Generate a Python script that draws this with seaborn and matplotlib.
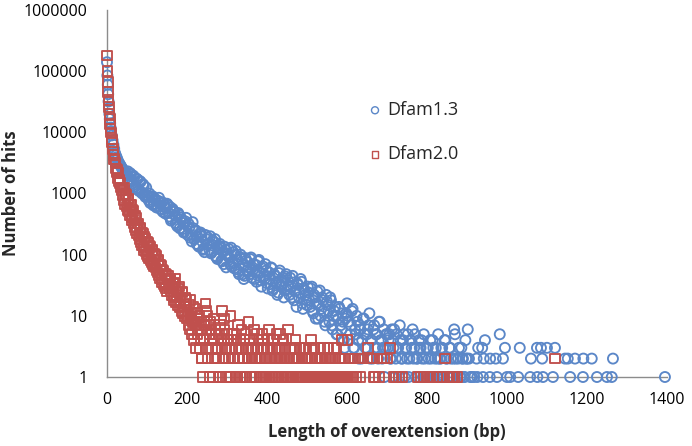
import pandas as pd
import matplotlib
matplotlib.use('Agg')
import matplotlib.pyplot as plt
import seaborn as sns
from matplotlib.ticker import NullLocator

# Dfam1.3 hit counts by overextension length (bp)
dfam13_x_head = [0, 1, 2, 3, 4, 5, 6, 7, 8, 9, 10]
dfam13_y_head = [140000, 85000, 60000, 42000, 32000, 25000, 20000, 16500, 14000, 12000, 10500]

dfam13_x_body = [12, 16, 20, 24, 28, 32, 36, 40, 44, 48,
                 52, 56, 60, 64, 68, 72, 76, 80, 84, 88, 92, 96,
                 100, 104, 108, 112, 116, 120, 124, 128, 132, 136, 140, 144, 148,
                 152, 156, 160, 164, 168, 172, 176, 180, 184, 188, 192, 196, 200,
                 204, 208, 212, 216, 220, 224, 228, 232, 236, 240, 244, 248,
                 252, 256, 260, 264, 268, 272, 276, 280, 284, 288, 292, 296, 300,
                 304, 308, 312, 316, 320, 324, 328, 332, 336, 340, 344, 348,
                 352, 356, 360, 364, 368, 372, 376, 380, 384, 388, 392, 396, 400,
                 404, 408, 412, 416, 420, 424, 428, 432, 436, 440, 444, 448,
                 452, 456, 460, 464, 468, 472, 476, 480, 484, 488, 492, 496, 500,
                 504, 508, 512, 516, 520, 524, 528, 532, 536, 540, 544, 548,
                 552, 556, 560, 564, 568, 572, 576, 580, 584, 588, 592, 596, 600]
dfam13_y_body = [8900, 6300, 4600, 3900, 3300, 3000, 2700, 2450, 2250, 2050,
                 2300, 1500, 2050, 1350, 1850, 1200, 1700, 1100, 1550, 1000, 1350, 880,
                 950, 780, 700, 860, 640, 820, 590, 760, 700, 540, 500, 650, 580,
                 650, 420, 360, 560, 500, 330, 290, 450, 410, 260, 230, 350, 300,
                 320, 190, 165, 270, 240, 150, 140, 220, 200, 120, 110, 180,
                 190, 120, 105, 170, 160, 95, 85, 140, 130, 78, 70, 120, 105,
                 125, 70, 64, 110, 100, 58, 52, 92, 85, 48, 45, 80,
                 75, 48, 90, 55, 40, 68, 46, 82, 38, 60, 44, 70, 34,
                 52, 33, 60, 28, 45, 36, 24, 55, 30, 42, 26, 48,
                 38, 22, 30, 45, 18, 26, 34, 20, 40, 16, 28, 22, 15,
                 24, 14, 30, 11, 20, 16, 9, 26, 13, 18, 8, 22,
                 15, 8, 18, 6, 12, 10, 5, 14, 7, 11, 4, 9, 16]

dfam13_x_mid = [14, 18, 22, 26, 30, 34, 38, 42, 46, 50,
                54, 58, 62, 66, 70, 74, 78, 82, 86, 90, 94, 98,
                102, 106, 110, 114, 118, 122, 126, 130, 134, 138, 142, 146, 150,
                154, 158, 162, 166, 170, 174, 178, 182, 186, 190, 194, 198, 202,
                206, 210, 214, 218, 222, 226, 230, 234, 238, 242, 246, 250,
                254, 258, 262, 266, 270, 274, 278, 282, 286, 290, 294, 298, 302,
                306, 310, 314, 318, 322, 326, 330, 334, 338, 342, 346, 350,
                354, 358, 362, 366, 370, 374, 378, 382, 386, 390, 394, 398, 402,
                406, 410, 414, 418, 422, 426, 430, 434, 438, 442, 446, 450,
                454, 458, 462, 466, 470, 474, 478, 482, 486, 490, 494, 498, 502,
                506, 510, 514, 518, 522, 526, 530, 534, 538, 542, 546, 550,
                554, 558, 562, 566, 570, 574, 578, 582, 586, 590, 594, 598]
dfam13_y_mid = [7400, 5400, 4200, 3600, 3150, 2850, 2550, 2350, 2150, 1950,
                1600, 2150, 1450, 1950, 1300, 1750, 1180, 1600, 1050, 1420, 950, 1250,
                880, 1000, 740, 900, 680, 780, 620, 850, 560, 720, 610, 470, 680,
                480, 600, 380, 520, 440, 310, 480, 270, 380, 330, 240, 400, 210,
                280, 210, 340, 180, 250, 200, 135, 230, 165, 125, 210, 145,
                150, 200, 110, 140, 180, 90, 125, 150, 80, 110, 135, 62, 95,
                90, 130, 75, 60, 115, 82, 48, 100, 68, 40, 88, 55,
                62, 85, 42, 70, 52, 36, 78, 50, 30, 64, 40, 55, 28,
                40, 62, 26, 48, 34, 22, 50, 32, 38, 20, 44, 27,
                30, 42, 20, 35, 25, 14, 32, 24, 36, 13, 26, 18, 30,
                18, 28, 12, 22, 9, 25, 15, 10, 20, 12, 7, 17,
                12, 20, 7, 10, 14, 5, 9, 13, 6, 8, 3, 11]

dfam13_x_tail = [602, 604, 606, 608, 610, 612, 614, 616, 618, 620, 622, 624, 626, 628, 630, 632,
                 634, 636, 638, 640, 642, 644, 646, 648, 650, 652, 654, 656, 658, 660, 662, 664,
                 666, 668, 670, 672, 674, 676, 678, 680, 682, 684, 686, 688, 690, 692, 694, 696,
                 698, 700, 702, 704, 706, 708, 710, 712, 714, 716, 718, 720, 722, 724, 726, 728,
                 730, 732, 734, 736, 738, 740, 742, 744, 746, 748, 750, 752, 754, 756, 758, 760,
                 762, 764, 766, 768, 770, 772, 774, 776, 778, 780, 782, 784, 786, 788, 790, 792,
                 794, 796, 798, 800, 802, 804, 806, 808, 810, 812, 814, 816, 818, 820, 822, 824,
                 826, 828, 830, 832, 834, 836, 838, 840, 842, 844, 846, 848, 850, 852, 854, 856,
                 858, 860, 862, 864, 866, 868, 870, 872, 874, 876, 878, 880, 882, 884, 886, 888,
                 890, 892, 894, 896, 898, 900]
dfam13_y_tail = [10, 8, 4, 5, 7, 12, 13, 3, 3, 6, 5, 10, 8, 4, 2, 7,
                 6, 2, 4, 9, 9, 5, 3, 3, 5, 6, 7, 11, 2, 4, 4, 2,
                 6, 7, 3, 5, 5, 3, 2, 8, 8, 4, 4, 2, 3, 6, 1, 3,
                 5, 5, 3, 4, 5, 2, 2, 6, 4, 3, 6, 1, 2, 5, 3, 3,
                 1, 7, 4, 2, 2, 4, 5, 1, 3, 3, 2, 5, 1, 2, 4, 4,
                 3, 6, 2, 3, 5, 1, 2, 2, 1, 4, 3, 3, 4, 2, 1, 5,
                 2, 1, 3, 3, 3, 2, 1, 4, 2, 1, 4, 3, 1, 2, 3, 1,
                 2, 5, 1, 2, 2, 3, 3, 1, 1, 4, 4, 2, 2, 1, 1, 3,
                 3, 2, 1, 1, 2, 6, 5, 2, 1, 1, 2, 3, 1, 1, 3, 2,
                 2, 1, 1, 4, 2, 2]

dfam13_x_far = [902, 905, 908, 912, 918, 924, 926, 928, 938, 940, 942, 945, 957, 958,
                972, 975, 982, 990, 995, 1000, 1008, 1028, 1032, 1058, 1060, 1075,
                1076, 1085, 1088, 1090, 1100, 1115, 1120, 1145, 1152, 1158, 1170,
                1190, 1191, 1212, 1225, 1250, 1262, 1265, 1395]
dfam13_y_far = [6, 2, 1, 1, 1, 2, 1, 3, 3, 1, 2, 4, 1, 2,
                2, 1, 5, 2, 3, 1, 1, 1, 3, 1, 2, 3,
                1, 3, 2, 1, 3, 1, 3, 2, 2, 1, 2,
                1, 2, 2, 1, 1, 1, 2, 1]

# Dfam2.0 hit counts by overextension length (bp)
dfam20_x_head = [0, 1, 2, 3, 4, 5, 6, 7, 8, 9, 10]
dfam20_y_head = [180000, 100000, 66000, 46000, 34000, 26000, 20000, 16500, 13500, 11500, 10000]

dfam20_x_body = [12, 15, 18, 21, 24, 27, 30, 33, 36, 39,
                 42, 45, 48, 51, 54, 57, 60, 63, 66, 69, 72, 75, 78, 81,
                 84, 87, 90, 93, 96, 99, 102, 105, 108, 111, 114, 117, 120,
                 123, 126, 129, 132, 135, 138, 141, 144, 147, 150,
                 153, 156, 159, 162, 165, 168, 171, 174, 177, 180, 183, 186, 189, 192, 195, 198]
dfam20_y_body = [7600, 5300, 3600, 3200, 2250, 2150, 1600, 1500, 1150, 1150,
                 1230, 680, 960, 540, 800, 450, 650, 360, 520, 280, 400, 225, 325, 180,
                 265, 142, 220, 120, 185, 100, 156, 86, 135, 75, 117, 65, 100,
                 94, 51, 78, 42, 65, 35, 55, 30, 47, 25,
                 45, 28, 38, 22, 33, 18, 40, 26, 15, 30, 20, 12, 24, 16, 10, 18]

dfam20_x_mid = [13, 16, 19, 22, 25, 28, 31, 34, 37, 40,
                43, 46, 49, 52, 55, 58, 61, 64, 67, 70, 73, 76, 79, 82,
                85, 88, 91, 94, 97, 100, 103, 106, 109, 112, 115, 118, 121,
                124, 127, 130, 133, 136, 139, 142, 145, 148, 151,
                154, 157, 160, 163, 166, 169, 172, 175, 178, 181, 184, 187, 190, 193, 196, 199]
dfam20_y_mid = [6800, 4300, 3700, 2550, 2400, 1750, 1650, 1250, 1250, 950,
                780, 985, 610, 830, 510, 650, 410, 545, 330, 425, 255, 325, 205, 270,
                160, 230, 135, 195, 112, 160, 95, 140, 82, 120, 70, 105, 62,
                56, 82, 47, 68, 40, 57, 33, 48, 28, 41,
                32, 40, 25, 30, 20, 35, 17, 22, 28, 14, 18, 25, 11, 14, 20, 9]

dfam20_x_low = [201, 202, 204, 205, 207, 208, 210, 211, 213, 214, 216, 217, 219, 220, 222, 223,
                225, 226, 228, 229, 231, 232, 234, 235, 237, 238, 240, 241, 243, 244, 246, 247,
                249, 250, 252, 253, 255, 256, 258, 259, 261, 262, 264, 265, 267, 268, 270, 271,
                273, 274, 276, 277, 279, 280, 282, 283, 285, 286, 288, 289, 291, 292, 294, 295,
                297, 298, 300, 301, 303, 304, 306, 307, 309, 310, 312, 313, 315, 316, 318, 319,
                321, 322, 324, 325, 327, 328, 330, 331, 333, 334, 336, 337, 339, 340, 342, 343,
                345, 346, 348, 349, 351, 352, 354, 355, 357, 358, 360, 361, 363, 364, 366, 367,
                369, 370, 372, 373, 375, 376, 378, 379, 381, 382, 384, 385, 387, 388, 390, 391,
                393, 394, 396, 397, 399, 400, 402, 403, 405, 406, 408, 409, 411, 412, 414, 415,
                417, 418, 420, 421, 423, 424, 426, 427, 429, 430, 432, 433, 435, 436, 438, 439,
                441, 442, 444, 445, 447, 448, 450, 451, 453, 454, 456, 457, 459, 460, 462, 463,
                465, 466, 468, 469, 471, 472, 474, 475, 477, 478, 480, 481, 483, 484, 486, 487,
                489, 490, 492, 493, 495, 496, 498, 499, 501, 502, 504, 505, 507, 508, 510, 511,
                513, 514, 516, 517, 519, 520, 522, 523, 525, 526, 528, 529, 531, 532, 534, 535,
                537, 538, 540, 541, 543, 544, 546, 547, 549, 550, 552, 553, 555, 556, 558, 559,
                561, 562, 564, 565, 567, 568, 570, 571, 573, 574, 576, 577, 579, 580, 582, 583,
                585, 586, 588, 589, 591, 592, 594, 595, 597, 598, 600]
dfam20_y_low = [12, 10, 7, 15, 18, 6, 9, 11, 5, 8, 14, 4, 8, 13, 3, 7,
                11, 5, 6, 9, 10, 3, 4, 6, 2, 2, 1, 4, 8, 7, 16, 3,
                12, 10, 3, 2, 7, 5, 1, 8, 6, 3, 4, 1, 9, 4, 2, 6,
                5, 2, 3, 3, 1, 5, 7, 1, 4, 4, 12, 2, 2, 9, 6, 3,
                3, 1, 5, 4, 4, 2, 1, 3, 10, 1, 3, 5, 2, 4, 5, 2,
                1, 3, 4, 1, 2, 7, 3, 2, 1, 4, 6, 3, 2, 1, 4, 2,
                1, 5, 3, 1, 2, 3, 8, 2, 1, 4, 3, 1, 2, 3, 4, 6,
                1, 2, 2, 1, 5, 3, 3, 4, 1, 2, 2, 1, 4, 5, 1, 3,
                3, 2, 2, 1, 1, 3, 4, 2, 6, 1, 2, 3, 1, 2, 3, 4,
                4, 1, 1, 2, 2, 5, 3, 1, 1, 3, 5, 2, 2, 1, 1, 4,
                4, 2, 3, 3, 1, 1, 2, 2, 6, 1, 2, 3, 1, 1, 3, 2,
                1, 1, 2, 3, 4, 2, 1, 1, 2, 1, 1, 3, 3, 1, 1, 2,
                2, 1, 1, 3, 2, 1, 3, 2, 1, 1, 2, 1, 1, 2, 4, 1,
                2, 3, 1, 1, 3, 2, 1, 1, 2, 1, 1, 1, 1, 2, 3, 1,
                2, 1, 1, 1, 3, 1, 2, 1, 1, 1, 3, 2, 1, 1, 2, 2,
                1, 1, 2, 1, 3, 1, 1, 2, 1, 3, 1, 1, 1, 2, 2, 1,
                1, 1, 4, 2, 1, 1, 2, 1, 1, 1, 1]

dfam20_x_tail = [601, 604, 607, 612, 616, 620, 624, 628, 632, 636, 640, 652, 657, 662,
                 666, 670, 675, 680, 686, 692, 700, 707, 716, 722, 730, 737, 778, 785,
                 792, 800, 806, 815, 825, 832, 845, 850, 856, 862, 868, 875, 1120]
dfam20_y_tail = [4, 1, 2, 1, 1, 2, 1, 2, 1, 2, 2, 3, 2, 2,
                 1, 1, 2, 1, 2, 2, 2, 3, 1, 1, 1, 1, 1, 1,
                 1, 1, 1, 1, 1, 1, 2, 1, 1, 1, 1, 1, 2]

y_ticks = [1, 10, 100, 1000, 10000, 100000, 1000000]
y_tick_labels = ['1', '10', '100', '1000', '10000', '100000', '1000000']
x_ticks = [0, 200, 400, 600, 800, 1000, 1200, 1400]
x_tick_labels = ['0', '200', '400', '600', '800', '1000', '1200', '1400']


def make_plot():
    dfam13 = pd.DataFrame({
        'length': dfam13_x_head + dfam13_x_body + dfam13_x_mid + dfam13_x_tail + dfam13_x_far,
        'hits': dfam13_y_head + dfam13_y_body + dfam13_y_mid + dfam13_y_tail + dfam13_y_far,
    })
    dfam20 = pd.DataFrame({
        'length': dfam20_x_head + dfam20_x_body + dfam20_x_mid + dfam20_x_low + dfam20_x_tail,
        'hits': dfam20_y_head + dfam20_y_body + dfam20_y_mid + dfam20_y_low + dfam20_y_tail,
    })

    sns.set_theme(style='white')
    plt.rcParams['font.family'] = ['Open Sans', 'DejaVu Sans']

    fig = plt.figure(figsize=(6.92, 4.46), dpi=100)
    ax = fig.add_axes([0.1546, 0.1547, 0.8092, 0.8229])

    blue = '#5B87C8'
    red = '#C0504D'
    sns.scatterplot(data=dfam13, x='length', y='hits', ax=ax, marker='o', s=52,
                    color=blue, facecolors='none', edgecolor=blue, linewidth=1.35,
                    label='Dfam1.3', clip_on=False, zorder=3)
    sns.scatterplot(data=dfam20, x='length', y='hits', ax=ax, marker='s', s=48,
                    color=red, facecolors='none', edgecolor=red, linewidth=1.35,
                    label='Dfam2.0', clip_on=False, zorder=4)

    ax.set_yscale('log')
    ax.set_xlim(0, 1400)
    ax.set_ylim(1, 1000000)
    ax.set_yticks(y_ticks)
    ax.set_yticklabels(y_tick_labels)
    ax.yaxis.set_minor_locator(NullLocator())
    ax.set_xticks(x_ticks)
    ax.set_xticklabels(x_tick_labels)
    ax.tick_params(axis='y', length=0, pad=14, labelsize=11.5, colors='black')
    ax.tick_params(axis='x', length=0, pad=11, labelsize=11.5, colors='black')

    for side in ['top', 'right']:
        ax.spines[side].set_visible(False)
    for side in ['left', 'bottom']:
        ax.spines[side].set_color('#8C8C8C')
        ax.spines[side].set_linewidth(1.0)

    ax.set_xlabel('Length of overextension (bp)', fontsize=12, fontweight='bold')
    ax.set_ylabel('Number of hits', fontsize=12, fontweight='bold')
    ax.xaxis.set_label_coords(0.5, -0.125)
    ax.yaxis.set_label_coords(-0.155, 0.5)

    leg = ax.legend(loc='upper left', bbox_to_anchor=(0.4625, 0.752), frameon=False,
                    fontsize=13, labelspacing=1.45, handletextpad=0.2, handlelength=1.0,
                    markerscale=0.7, borderaxespad=0, borderpad=0)
    for h in leg.legend_handles:
        h.set_linewidth(1.0)

    fig.savefig('out.png', dpi=100)


if __name__ == "__main__":
    make_plot()
